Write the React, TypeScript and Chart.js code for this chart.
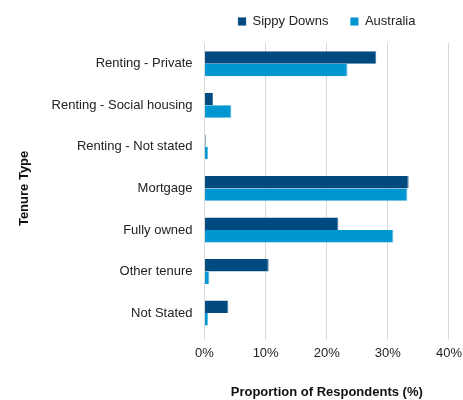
import React, { useEffect, useRef } from "react";
import { Chart, registerables } from "chart.js";

Chart.register(...registerables);

const categories = [
  "Renting - Private",
  "Renting - Social housing",
  "Renting - Not stated",
  "Mortgage",
  "Fully owned",
  "Other tenure",
  "Not Stated",
];
const sippyDowns = [28.1, 1.4, 0.2, 33.4, 21.9, 10.5, 3.9];
const australia = [23.4, 4.4, 0.6, 33.2, 30.9, 0.8, 0.6];
const seriesNames = ["Sippy Downs", "Australia"];

const FONT = "'Liberation Sans', Arial, sans-serif";

const legendMargin = {
  id: "legendMargin",
  beforeInit(chart: any) {
    const lg = chart.legend;
    if (!lg) return;
    const orig = lg.fit;
    lg.fit = function () {
      orig.call(this);
      this.height += 5;
    };
  },
};

export default function App() {
  const ref = useRef<HTMLCanvasElement | null>(null);
  useEffect(() => {
    if (!ref.current) return;
    const chart = new Chart(ref.current, {
      type: "bar",
      data: {
        labels: categories,
        datasets: [
          {
            label: seriesNames[0],
            data: sippyDowns,
            backgroundColor: "#004a80",
            borderColor: "#3a72a0",
            borderWidth: { top: 0, bottom: 0, left: 0, right: 1 },
            categoryPercentage: 0.6,
            barPercentage: 1,
          },
          {
            label: seriesNames[1],
            data: australia,
            backgroundColor: "#0096d1",
            borderColor: "#5ab8e0",
            borderWidth: { top: 0, bottom: 0, left: 0, right: 1 },
            categoryPercentage: 0.6,
            barPercentage: 1,
          },
        ],
      },
      plugins: [legendMargin],
      options: {
        indexAxis: "y",
        animation: false,
        responsive: false,
        maintainAspectRatio: false,
        layout: { padding: { left: 17, right: 0, top: -7, bottom: 0 } },
        plugins: {
          tooltip: { enabled: false },
          legend: {
            position: "top",
            align: "center",
            fullSize: false,
            labels: {
              boxWidth: 8,
              boxHeight: 8,
              padding: 22,
              color: "#222",
              font: { family: FONT, size: 13 },
            },
          },
        },
        scales: {
          x: {
            min: 0,
            max: 40,
            ticks: {
              stepSize: 10,
              color: "#222",
              padding: 6,
              font: { family: FONT, size: 13 },
              callback: (v: any) => v + "%",
            },
            grid: { color: "#d9d9d9", lineWidth: 1, tickLength: 6, drawTicks: true },
            border: { display: false },
            title: {
              display: true,
              text: "Proportion of Respondents (%)",
              color: "#111",
              font: { family: FONT, size: 13, weight: "bold" },
              padding: { top: 17, bottom: 0 },
            },
          },
          y: {
            ticks: {
              color: "#222",
              padding: 4,
              font: { family: FONT, size: 13 },
            },
            grid: { display: false },
            border: { display: false },
            title: {
              display: true,
              text: "Tenure Type",
              color: "#111",
              font: { family: FONT, size: 13, weight: "bold" },
              padding: { top: 0, bottom: 15 },
            },
          },
        },
      },
    } as any);
    return () => chart.destroy();
  }, []);
  return (
    <div style={{ position: "fixed", left: 0, top: 0, width: 463, height: 400, overflow: "hidden", background: "#fff" }}>
      <canvas ref={ref} width={468} height={400} style={{ display: "block" }} />
    </div>
  );
}
